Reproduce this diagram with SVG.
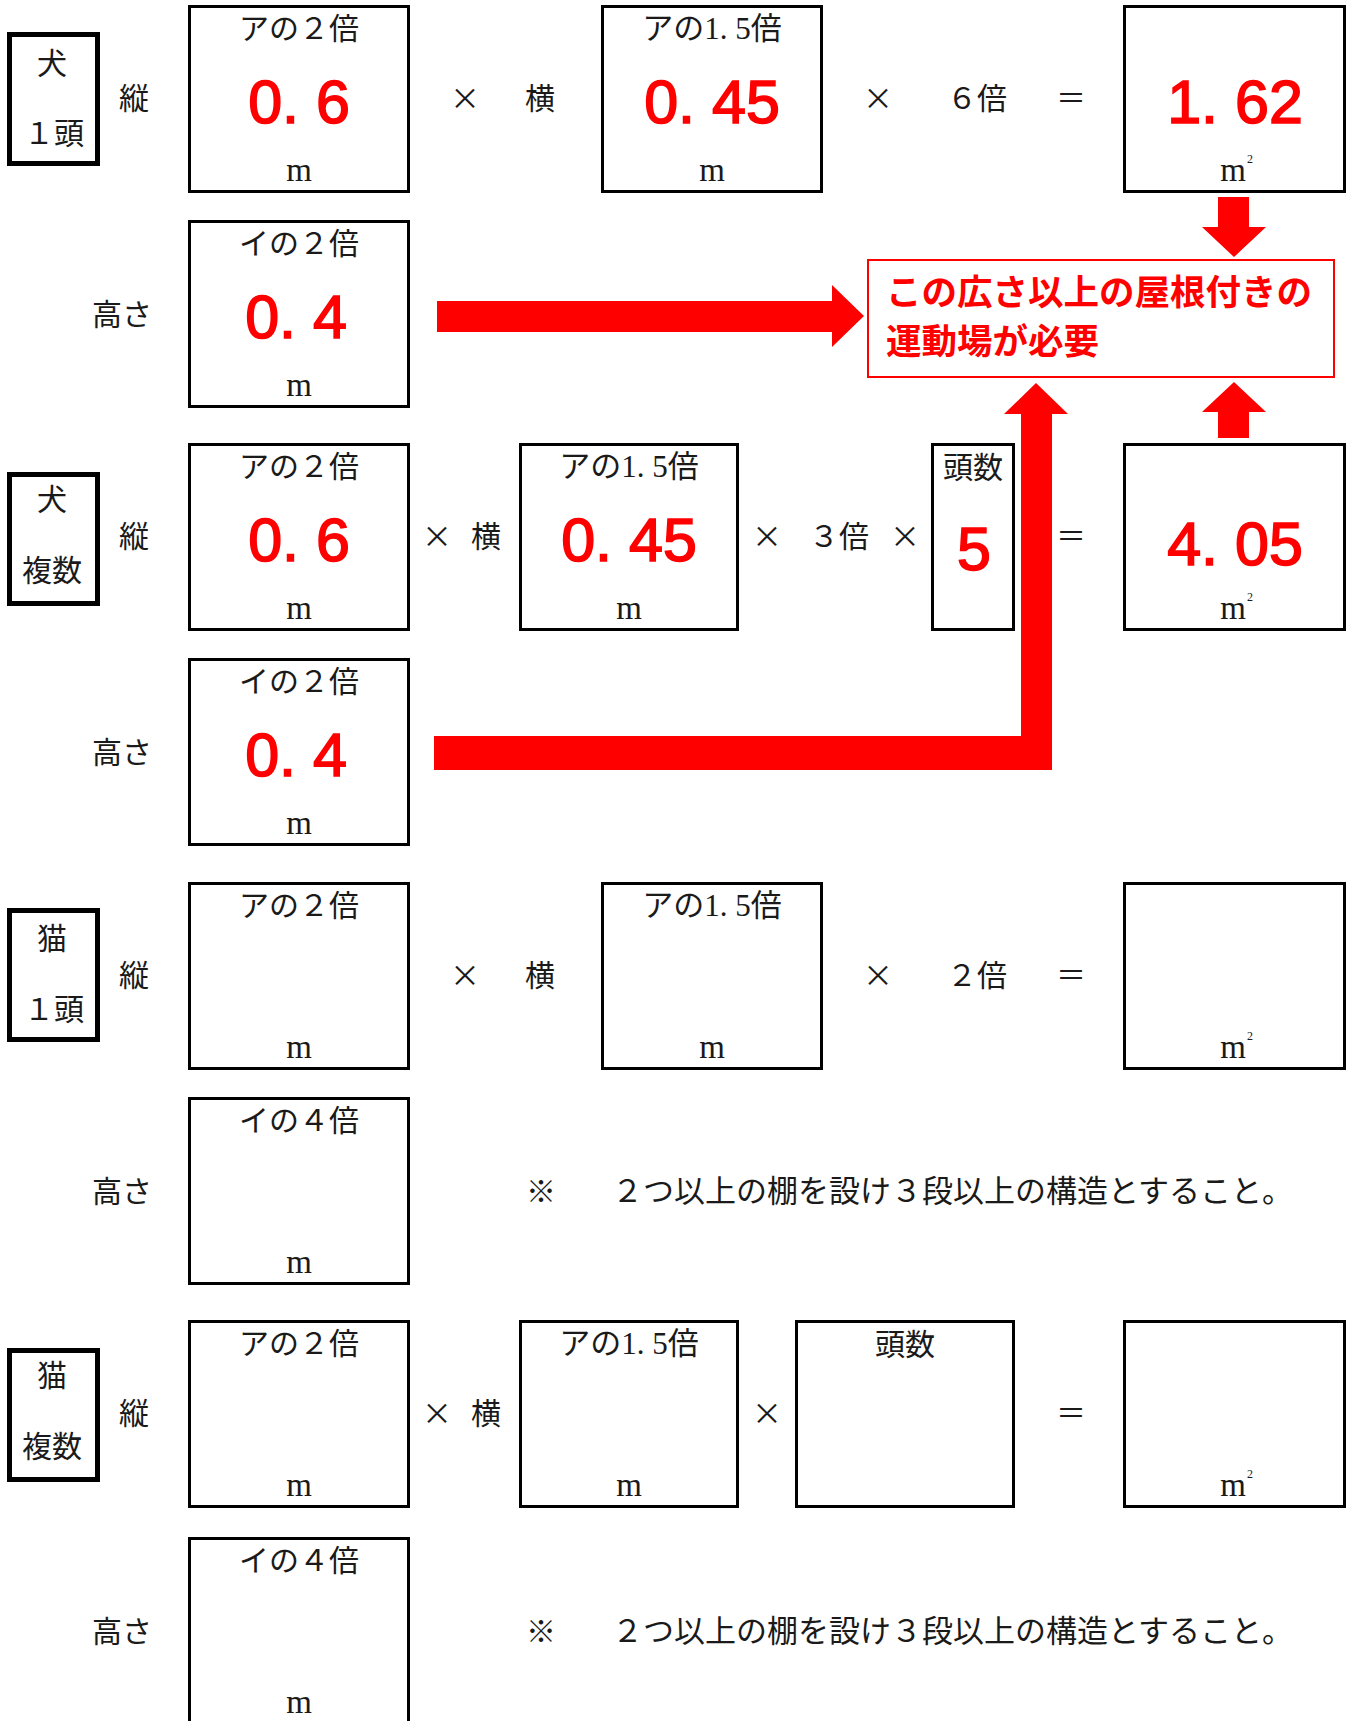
<svg xmlns="http://www.w3.org/2000/svg" width="1356" height="1721" viewBox="0 0 1356 1721">
<style>
.bx{fill:none;stroke:#000;stroke-width:3}
.lb{fill:none;stroke:#000;stroke-width:5}
.t{font-family:"Liberation Serif","Noto Sans CJK JP",serif;font-size:31px;fill:#1a1a1a;text-anchor:middle}
.j{font-family:"Noto Sans CJK JP","Liberation Serif",sans-serif;font-size:30px;fill:#1a1a1a;text-anchor:middle}
.op{font-family:"Noto Sans CJK JP",sans-serif;font-size:30px;fill:#1a1a1a;text-anchor:middle}
.m{font-family:"Liberation Serif",serif;font-size:33px;fill:#1a1a1a;text-anchor:middle}
.sup{font-family:"Liberation Serif",serif;font-size:12px;fill:#1a1a1a}
.r{font-family:"Liberation Sans",Arial,sans-serif;font-size:61px;fill:#ff0000;stroke:#ff0000;stroke-width:1.6;text-anchor:middle}
.rt{font-family:"Noto Sans CJK JP",sans-serif;font-weight:bold;font-size:35.5px;fill:#ff0000}
.ar{fill:#ff0000}
</style>

<!-- Row 1: dog, 1 head -->
<g id="label-dog1">
<rect class="lb" x="9.5" y="34.5" width="88" height="129"/>
<text class="j" x="52" y="74">犬</text>
<text class="j" x="54" y="144">１頭</text>
</g>
<g id="row1-ops">
<text class="j" x="134" y="109">縦</text>
<text class="op" x="465" y="109">×</text>
<text class="j" x="540" y="109">横</text>
<text class="op" x="878" y="109">×</text>
<text class="j" x="977" y="109">６倍</text>
<text class="op" x="1071" y="109">＝</text>
</g>
<g id="r1-length">
<rect class="bx" x="189.5" y="6.5" width="219" height="185"/>
<text class="j" x="299" y="39">アの２倍</text>
<text class="r" x="299" y="123">0. 6</text>
<text class="m" x="299" y="181">m</text>
</g>
<g id="r1-width">
<rect class="bx" x="602.5" y="6.5" width="219" height="185"/>
<text class="t" x="712" y="39">アの1. 5倍</text>
<text class="r" x="712" y="123">0. 45</text>
<text class="m" x="712" y="181">m</text>
</g>
<g id="r1-area">
<rect class="bx" x="1124.5" y="6.5" width="220" height="185"/>
<text class="r" x="1235" y="123">1. 62</text>
<text class="m" x="1233" y="181">m</text>
<text class="sup" x="1247" y="163">2</text>
</g>

<!-- Row 2 -->
<g id="r2-height">
<text class="j" x="122" y="325">高さ</text>
<rect class="bx" x="189.5" y="221.5" width="219" height="185"/>
<text class="j" x="299" y="254">イの２倍</text>
<text class="r" x="296" y="338">0. 4</text>
<text class="m" x="299" y="396">m</text>
</g>

<!-- Result note -->
<g id="note-box">
<rect x="868" y="260" width="466" height="117" fill="#fff" stroke="#ff0000" stroke-width="2"/>
<text class="rt" x="886" y="305">この広さ以上の屋根付きの</text>
<text class="rt" x="886" y="354">運動場が必要</text>
</g>

<!-- Row 3: dog, multiple -->
<g id="label-dog-multi">
<rect class="lb" x="9.5" y="474.5" width="88" height="129"/>
<text class="j" x="52" y="510">犬</text>
<text class="j" x="52" y="581">複数</text>
</g>
<g id="row3-ops">
<text class="j" x="134" y="547">縦</text>
<text class="op" x="437" y="547">×</text>
<text class="j" x="486" y="547">横</text>
<text class="op" x="767" y="547">×</text>
<text class="j" x="839" y="547">３倍</text>
<text class="op" x="905" y="547">×</text>
<text class="op" x="1071" y="547">＝</text>
</g>
<g id="r3-length">
<rect class="bx" x="189.5" y="444.5" width="219" height="185"/>
<text class="j" x="299" y="477">アの２倍</text>
<text class="r" x="299" y="561">0. 6</text>
<text class="m" x="299" y="619">m</text>
</g>
<g id="r3-width">
<rect class="bx" x="520.5" y="444.5" width="217" height="185"/>
<text class="t" x="629" y="477">アの1. 5倍</text>
<text class="r" x="629" y="561">0. 45</text>
<text class="m" x="629" y="619">m</text>
</g>
<g id="r3-count">
<rect class="bx" x="932.5" y="444.5" width="81" height="185"/>
<text class="j" x="973" y="478">頭数</text>
<text class="r" x="974" y="570">5</text>
</g>
<g id="r3-area">
<rect class="bx" x="1124.5" y="444.5" width="220" height="185"/>
<text class="r" x="1235" y="565">4. 05</text>
<text class="m" x="1233" y="619">m</text>
<text class="sup" x="1247" y="601">2</text>
</g>

<!-- Row 4 -->
<g id="r4-height">
<text class="j" x="122" y="763">高さ</text>
<rect class="bx" x="189.5" y="659.5" width="219" height="185"/>
<text class="j" x="299" y="692">イの２倍</text>
<text class="r" x="296" y="776">0. 4</text>
<text class="m" x="299" y="834">m</text>
</g>

<!-- Row 5: cat, 1 head -->
<g id="label-cat1">
<rect class="lb" x="9.5" y="910.5" width="88" height="129"/>
<text class="j" x="52" y="949">猫</text>
<text class="j" x="54" y="1020">１頭</text>
</g>
<g id="row5-ops">
<text class="j" x="134" y="986">縦</text>
<text class="op" x="465" y="986">×</text>
<text class="j" x="540" y="986">横</text>
<text class="op" x="878" y="986">×</text>
<text class="j" x="977" y="986">２倍</text>
<text class="op" x="1071" y="986">＝</text>
</g>
<g id="r5-length">
<rect class="bx" x="189.5" y="883.5" width="219" height="185"/>
<text class="j" x="299" y="916">アの２倍</text>
<text class="m" x="299" y="1058">m</text>
</g>
<g id="r5-width">
<rect class="bx" x="602.5" y="883.5" width="219" height="185"/>
<text class="t" x="712" y="916">アの1. 5倍</text>
<text class="m" x="712" y="1058">m</text>
</g>
<g id="r5-area">
<rect class="bx" x="1124.5" y="883.5" width="220" height="185"/>
<text class="m" x="1233" y="1058">m</text>
<text class="sup" x="1247" y="1040">2</text>
</g>

<!-- Row 6 -->
<g id="r6-height">
<text class="j" x="122" y="1202">高さ</text>
<rect class="bx" x="189.5" y="1098.5" width="219" height="185"/>
<text class="j" x="299" y="1131">イの４倍</text>
<text class="m" x="299" y="1273">m</text>
</g>
<g id="r6-note">
<text class="op" x="541" y="1202">※</text>
<text class="j" x="612" y="1202" style="text-anchor:start;font-size:31px">２つ以上の棚を設け３段以上の構造とすること。</text>
</g>

<!-- Row 7: cat, multiple -->
<g id="label-cat-multi">
<rect class="lb" x="9.5" y="1350.5" width="88" height="129"/>
<text class="j" x="52" y="1386">猫</text>
<text class="j" x="52" y="1457">複数</text>
</g>
<g id="row7-ops">
<text class="j" x="134" y="1424">縦</text>
<text class="op" x="437" y="1424">×</text>
<text class="j" x="486" y="1424">横</text>
<text class="op" x="767" y="1424">×</text>
<text class="op" x="1071" y="1424">＝</text>
</g>
<g id="r7-length">
<rect class="bx" x="189.5" y="1321.5" width="219" height="185"/>
<text class="j" x="299" y="1354">アの２倍</text>
<text class="m" x="299" y="1496">m</text>
</g>
<g id="r7-width">
<rect class="bx" x="520.5" y="1321.5" width="217" height="185"/>
<text class="t" x="629" y="1354">アの1. 5倍</text>
<text class="m" x="629" y="1496">m</text>
</g>
<g id="r7-count">
<rect class="bx" x="796.5" y="1321.5" width="217" height="185"/>
<text class="j" x="905" y="1355">頭数</text>
</g>
<g id="r7-area">
<rect class="bx" x="1124.5" y="1321.5" width="220" height="185"/>
<text class="m" x="1233" y="1496">m</text>
<text class="sup" x="1247" y="1478">2</text>
</g>

<!-- Row 8 -->
<g id="r8-height">
<text class="j" x="122" y="1642">高さ</text>
<rect class="bx" x="189.5" y="1538.5" width="219" height="185"/>
<text class="j" x="299" y="1571">イの４倍</text>
<text class="m" x="299" y="1713">m</text>
</g>
<g id="r8-note">
<text class="op" x="541" y="1642">※</text>
<text class="j" x="612" y="1642" style="text-anchor:start;font-size:31px">２つ以上の棚を設け３段以上の構造とすること。</text>
</g>

<!-- Connectors -->
<g id="connectors">
<polygon class="ar" points="1218,197 1249,197 1249,227 1266,227 1234,257 1202,227 1218,227"/>
<polygon class="ar" points="437,301 832,301 832,285 864,316 832,347 832,332 437,332"/>
<polygon class="ar" points="434,736 1021,736 1021,414 1004,414 1036,383 1068,414 1052,414 1052,770 434,770"/>
<polygon class="ar" points="1218,438 1249,438 1249,412 1266,412 1234,382 1202,412 1218,412"/>
</g>
</svg>
